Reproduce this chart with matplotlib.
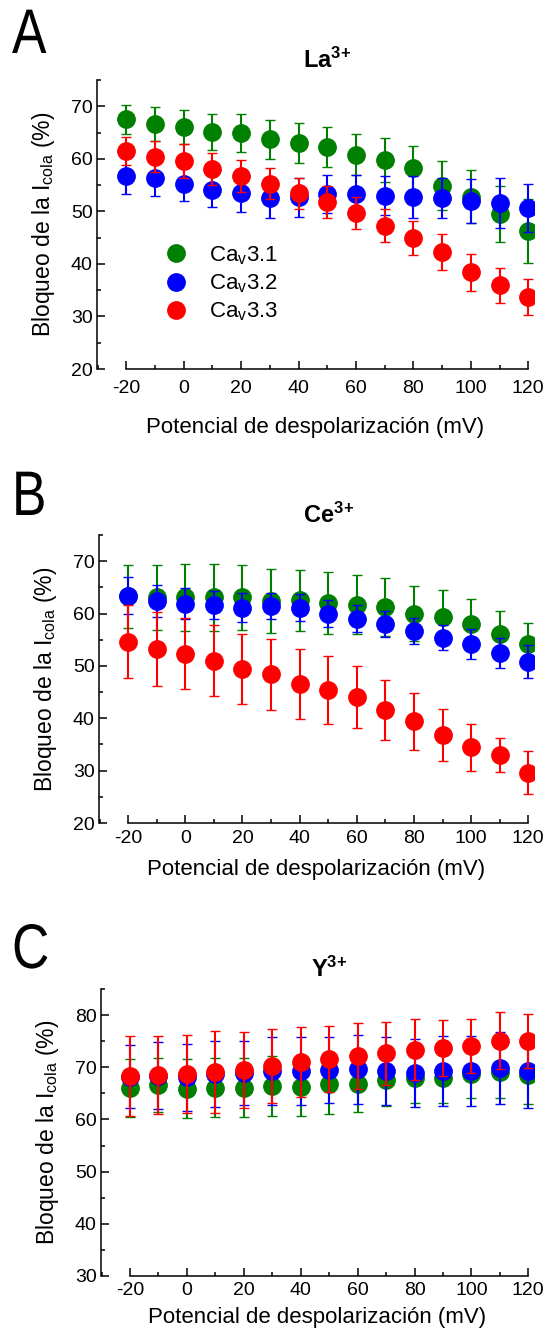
import matplotlib as mpl
mpl.use('Agg')
import matplotlib.pyplot as plt
from matplotlib.lines import Line2D
from matplotlib.ticker import MultipleLocator
from matplotlib.textpath import TextPath
from matplotlib.patches import PathPatch
from matplotlib.font_manager import FontProperties
import matplotlib.transforms as mtransforms

plt.rcParams['font.family'] = ['Liberation Sans', 'DejaVu Sans']
plt.rcParams['mathtext.fontset'] = 'custom'
plt.rcParams['mathtext.rm'] = 'Liberation Sans'
plt.rcParams['mathtext.bf'] = 'Liberation Sans:bold'
plt.rcParams['mathtext.it'] = 'Liberation Sans:italic'
plt.rcParams['axes.unicode_minus'] = False

# %% data
voltage = [-20, -10, 0, 10, 20, 30, 40, 50, 60, 70, 80, 90, 100, 110, 120]
series_names = ['Ca$_\\mathrm{v}$3.1', 'Ca$_\\mathrm{v}$3.2', 'Ca$_\\mathrm{v}$3.3']
series_colors = ['#008000', '#0000ff', '#ff0000']

# La3+
la_cav31 = [67.5, 66.6, 66.1, 65.1, 64.9, 63.7, 63.0, 62.3, 60.8, 59.7, 58.3, 54.9, 52.8, 49.5, 46.3]
la_cav31_err = [2.8, 3.3, 3.2, 3.5, 3.6, 3.7, 3.8, 3.8, 3.9, 4.2, 4.2, 4.7, 5.0, 5.3, 6.1]
la_cav32 = [56.7, 56.3, 55.3, 54.1, 53.4, 52.5, 52.7, 53.3, 53.3, 53.0, 52.7, 52.5, 52.0, 51.6, 50.6]
la_cav32_err = [3.4, 3.3, 3.3, 3.2, 3.5, 3.7, 3.7, 3.7, 3.7, 3.7, 4.0, 3.8, 4.2, 4.7, 4.6]
la_cav33 = [61.5, 60.4, 59.6, 58.1, 56.7, 55.3, 53.4, 51.8, 49.7, 47.3, 44.9, 42.3, 38.4, 35.9, 33.7]
la_cav33_err = [2.7, 3.0, 3.2, 3.1, 3.0, 3.0, 3.0, 3.0, 3.0, 3.2, 3.2, 3.4, 3.5, 3.4, 3.4]

# Ce3+
ce_cav31 = [63.3, 63.1, 63.1, 63.1, 63.1, 62.4, 62.5, 62.0, 61.7, 61.2, 60.0, 59.3, 58.0, 56.1, 54.1]
ce_cav31_err = [6.0, 6.2, 6.4, 6.4, 6.2, 6.1, 5.9, 5.9, 5.7, 5.5, 5.2, 5.2, 4.7, 4.4, 4.0]
ce_cav32 = [63.4, 62.4, 61.9, 61.6, 61.1, 61.4, 61.1, 60.0, 59.0, 58.0, 56.6, 55.4, 54.2, 52.5, 50.8]
ce_cav32_err = [3.5, 3.0, 2.9, 2.7, 2.8, 2.5, 2.6, 2.5, 2.6, 2.5, 2.5, 2.4, 2.9, 2.9, 3.2]
ce_cav33 = [54.6, 53.2, 52.3, 51.0, 49.4, 48.4, 46.6, 45.4, 44.0, 41.6, 39.4, 36.8, 34.5, 33.0, 29.6]
ce_cav33_err = [7.0, 7.1, 6.8, 6.8, 6.7, 6.8, 6.7, 6.4, 5.9, 5.8, 5.4, 5.0, 4.5, 3.2, 4.1]

# Y3+
y_cav31 = [66.0, 66.6, 65.9, 66.1, 66.1, 66.4, 66.3, 66.7, 66.8, 67.6, 67.9, 67.9, 68.7, 69.1, 68.6]
y_cav31_err = [5.5, 5.2, 5.6, 5.6, 5.7, 5.7, 5.7, 5.7, 5.3, 5.0, 4.8, 4.8, 4.5, 5.0, 5.6]
y_cav32 = [68.2, 68.4, 68.1, 68.7, 68.9, 69.3, 69.3, 69.5, 69.6, 69.3, 68.9, 69.3, 69.2, 69.8, 69.2]
y_cav32_err = [6.1, 6.4, 6.4, 6.3, 6.2, 6.5, 6.5, 6.3, 6.6, 6.5, 6.5, 6.7, 6.7, 6.9, 7.0]
y_cav33 = [68.3, 68.5, 68.75, 69.1, 69.45, 70.3, 71.05, 71.6, 72.1, 72.65, 73.4, 73.7, 74.05, 75.1, 75.1]
y_cav33_err = [7.7, 7.4, 7.5, 7.8, 7.3, 7.1, 6.7, 6.3, 6.3, 6.1, 5.8, 5.4, 5.2, 5.4, 5.2]

panels = [
    ('A', 'La$^\\mathregular{3\\!+}$', [la_cav31, la_cav32, la_cav33],
     [la_cav31_err, la_cav32_err, la_cav33_err], (20, 75)),
    ('B', 'Ce$^\\mathregular{3\\!+}$', [ce_cav31, ce_cav32, ce_cav33],
     [ce_cav31_err, ce_cav32_err, ce_cav33_err], (20, 75)),
    ('C', 'Y$^\\mathregular{3\\!+}$', [y_cav31, y_cav32, y_cav33],
     [y_cav31_err, y_cav32_err, y_cav33_err], (30, 85)),
]

# axes boxes in pixels: left, right, top, bottom
boxes = [(97, 534, 80, 369), (99, 534, 535, 823), (101, 534, 989, 1276)]
letter_pos = [(12, 53), (12, 515), (12, 968)]
xtick_pad = [8, 5, 4.5]
xlabel_pad = [14, 9, 5.5]

W, H = 549, 1342
fig = plt.figure(figsize=(W / 100, H / 100), dpi=100)

letter_font = FontProperties(family='Liberation Sans')

for n, (letter, title, ys, errs, ylim) in enumerate(panels):
    l, r, t, b = boxes[n]
    ax = fig.add_axes([l / W, 1 - b / H, (r - l) / W, (b - t) / H])

    for k in range(3):
        ax.errorbar(voltage, ys[k], yerr=errs[k], fmt='o', color=series_colors[k],
                    markersize=12.5, markeredgewidth=1, elinewidth=1.5,
                    capsize=3.6, capthick=1.5, zorder=3 + k)

    ax.set_xlim(-30.2, 122)
    ax.set_ylim(ylim)
    ax.spines['top'].set_visible(False)
    ax.spines['right'].set_visible(False)
    ax.spines['left'].set_bounds(ylim[0], ylim[1])
    ax.spines['bottom'].set_bounds(-20, 120)
    for s in ['left', 'bottom']:
        ax.spines[s].set_linewidth(1.1)

    ax.xaxis.set_major_locator(MultipleLocator(20))
    ax.xaxis.set_minor_locator(MultipleLocator(10))
    ax.yaxis.set_major_locator(MultipleLocator(10))
    ax.yaxis.set_minor_locator(MultipleLocator(5))
    ax.set_xticks(range(-20, 121, 20))
    ax.tick_params(which='both', direction='in', width=1.1, labelsize=14)
    ax.tick_params(which='major', length=5.5)
    ax.tick_params(which='minor', length=3)
    ax.tick_params(axis='x', pad=xtick_pad[n])
    ax.tick_params(axis='y', pad=3)

    ax.set_xlabel('Potencial de despolarización (mV)', fontsize=16,
                  labelpad=xlabel_pad[n])
    ax.set_ylabel('Bloqueo de la I$_{\\mathrm{cola}}$ (%)', fontsize=16.5, labelpad=10)

    trans = mtransforms.blended_transform_factory(ax.transData, ax.transAxes)
    ax.text(50, 1 + 12 / (b - t), title, transform=trans, ha='center',
            va='baseline', fontsize=17, fontweight='bold')

    # condensed panel letter
    lx, ly = letter_pos[n]
    tp = TextPath((0, 0), letter, size=63, prop=letter_font)
    tr = mtransforms.Affine2D().scale(0.82, 1.0).translate(lx, H - ly)
    fig.add_artist(PathPatch(tr.transform_path(tp), color='black', lw=0,
                             transform=mtransforms.IdentityTransform()))

    if n == 0:
        handles = [Line2D([], [], marker='o', ls='', color=c, markersize=12.5)
                   for c in series_colors]
        ax.legend(handles, series_names, loc='upper left', frameon=False,
                  bbox_to_anchor=(0.155, 0.432), borderaxespad=0, borderpad=0,
                  handlelength=1.0, handletextpad=1.0, labelspacing=0.25,
                  fontsize=16)

fig.savefig('out.png', dpi=100)
